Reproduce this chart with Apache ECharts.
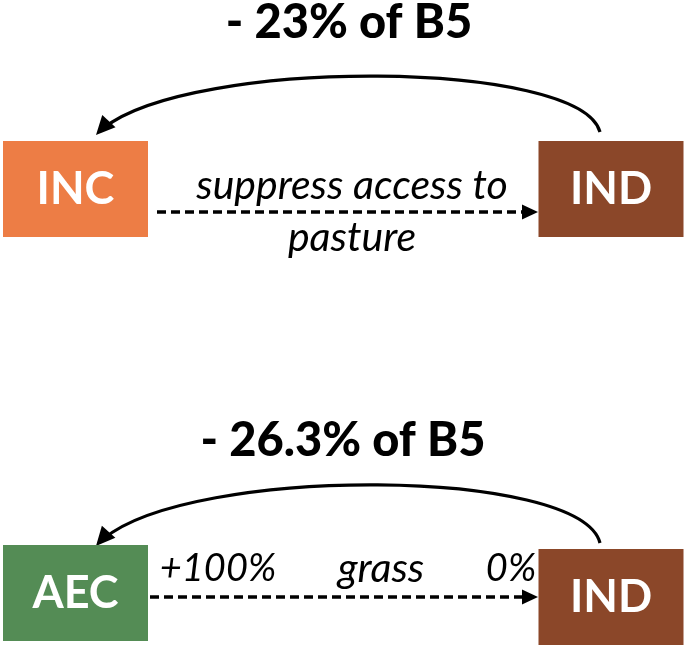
<!DOCTYPE html>
<html>
<head>
<meta charset="utf-8">
<script src="https://cdn.jsdelivr.net/npm/echarts@6/dist/echarts.min.js"></script>
<style>
  html, body { margin: 0; background: #fff; }
  #main { width: 687px; height: 646px; }
</style>
</head>
<body>
<div id="main"></div>
<script>
// values, one entry per row
const fromBox = ['INC', 'AEC']
const toBox = ['IND', 'IND']
const reduction = ['- 23% of B5', '- 26.3% of B5']
const action = ['suppress access to\npasture', 'grass']
const shareFrom = ['', '+100%']
const shareTo = ['', '0%']

const boxColors = { INC: '#ED7D45', AEC: '#548C55', IND: '#8B4729' }
const FONT = 'Lato, "Open Sans", sans-serif'

// layout of each row in pixels (the axes run 0..687 / 0..646)
const rows = [
  { fromY: 189, toY: 189, titleX: 349, titleY: 23, arcTop: 57, arcStart: 132, arcTip: 135,
    dashX: 157, dashY: 212, actionX: 352, actionY: 212 },
  { fromY: 593, toY: 597, titleX: 343, titleY: 441, arcTop: 465, arcStart: 543, arcTip: 546,
    dashX: 150, dashY: 597, actionX: 381, actionY: 569 }
]

let nodes = []
let arrows = []

rows.forEach((r, i) => {
  let p = 'r' + i + '_'
  let box = (name, id, x, y) => ({
    name: id,
    value: [x, y],
    symbol: 'rect',
    symbolSize: [145, 96],
    itemStyle: { color: boxColors[name] },
    label: {
      show: true, position: 'inside', formatter: name,
      color: '#fff', fontSize: 45, fontWeight: 'bold', fontFamily: FONT
    }
  })
  let text = (id, x, y, str, style) => ({
    name: id,
    value: [x, y],
    symbolSize: 0,
    label: Object.assign({ show: true, position: 'inside', formatter: str, color: '#000', fontFamily: FONT }, style)
  })

  nodes.push(box(fromBox[i], p + 'from', 75.5, r.fromY))
  nodes.push(box(toBox[i], p + 'to', 611, r.toY))
  nodes.push(text(p + 'title', r.titleX, r.titleY, reduction[i], { fontSize: 47, fontWeight: 900 }))
  nodes.push(text(p + 'action', r.actionX, r.actionY, action[i], { fontSize: 41, fontStyle: 'italic', lineHeight: 52 }))
  if (shareFrom[i]) nodes.push(text(p + 'sf', 218, r.actionY, shareFrom[i], { fontSize: 38, fontStyle: 'italic' }))
  if (shareTo[i]) nodes.push(text(p + 'st', 511, r.actionY, shareTo[i], { fontSize: 38, fontStyle: 'italic' }))

  // curved arrow back from IND to the first box (cubic bezier)
  arrows.push({ kind: 'arc', pts: [[600, r.arcStart], [580, r.arcTop], [168, r.arcTop], [96, r.arcTip]] })
  // dashed arrow from the first box to IND
  arrows.push({ kind: 'dash', pts: [[r.dashX, r.dashY], [538, r.dashY]] })
})

function arrowHead (tip, from, len, half) {
  let dx = tip[0] - from[0]
  let dy = tip[1] - from[1]
  let d = Math.sqrt(dx * dx + dy * dy)
  let ux = dx / d
  let uy = dy / d
  let bx = tip[0] - ux * len
  let by = tip[1] - uy * len
  return {
    type: 'polygon',
    shape: { points: [tip, [bx - uy * half, by + ux * half], [bx + uy * half, by - ux * half]] },
    style: { fill: '#000' }
  }
}

function renderArrow (params, api) {
  let a = arrows[params.dataIndex]
  let pts = a.pts.map(pt => api.coord(pt))
  if (a.kind === 'arc') {
    return {
      type: 'group',
      children: [
        {
          type: 'bezierCurve',
          shape: {
            x1: pts[0][0], y1: pts[0][1],
            cpx1: pts[1][0], cpy1: pts[1][1],
            cpx2: pts[2][0], cpy2: pts[2][1],
            x2: pts[3][0], y2: pts[3][1],
            percent: 0.97
          },
          style: { stroke: '#000', lineWidth: 3.2, fill: null }
        },
        arrowHead(pts[3], pts[2], 19, 9)
      ]
    }
  }
  let end = [pts[1][0] - 8, pts[1][1]]
  return {
    type: 'group',
    children: [
      {
        type: 'line',
        shape: { x1: pts[0][0], y1: pts[0][1], x2: end[0], y2: end[1] },
        style: { stroke: '#000', lineWidth: 3.5, lineDash: [9, 5] }
      },
      arrowHead(pts[1], pts[0], 16, 7.5)
    ]
  }
}

let chart = echarts.init(document.getElementById('main'))
chart.setOption({
  animation: false,
  grid: { left: 0, right: 0, top: 0, bottom: 0 },
  xAxis: { type: 'value', min: 0, max: 687, show: false },
  yAxis: { type: 'value', min: 0, max: 646, inverse: true, show: false },
  series: [
    {
      type: 'graph',
      coordinateSystem: 'cartesian2d',
      silent: true,
      data: nodes,
      links: []
    },
    {
      type: 'custom',
      coordinateSystem: 'cartesian2d',
      silent: true,
      data: arrows.map((a, i) => [i, 0]),
      renderItem: renderArrow
    }
  ]
})
</script>
</body>
</html>
